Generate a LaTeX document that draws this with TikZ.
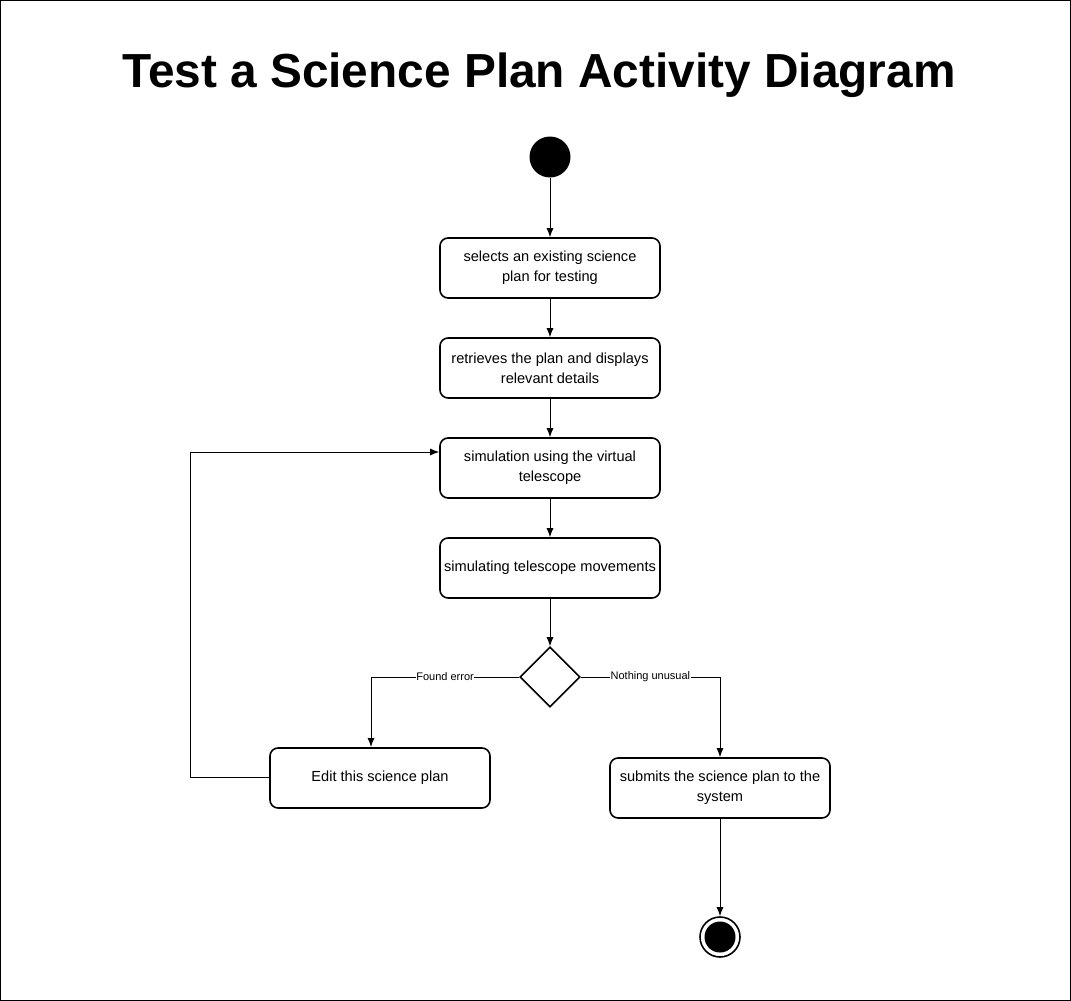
\documentclass[tikz,border=0pt]{standalone}
\usepackage{fontspec}
\setmainfont{Liberation Sans}
\usetikzlibrary{arrows.meta,shapes.geometric}
\begin{document}
\begin{tikzpicture}[x=1pt,y=-1pt,
  act/.style={draw,line width=1.6pt,rounded corners=8pt,minimum width=220pt,minimum height=60pt,align=center,font=\fontsize{14.6}{20}\selectfont,inner sep=0pt},
  flow/.style={line width=0.9pt,-{Latex[length=9pt,width=7pt]}},
  lbl/.style={fill=white,font=\fontsize{11}{12}\selectfont,inner sep=0.5pt}]
\draw[line width=1pt] (0.5,0.5) rectangle (1070.5,1000.5);
\useasboundingbox (0,0) rectangle (1071,1001);
\node[font=\fontsize{47.8}{54}\selectfont\bfseries] (title) at (539,75) {Test a Science Plan Activity Diagram};
\node[circle,fill=black,minimum size=41pt,inner sep=0pt] (start) at (550,157) {};
\node[act] (a1) at (550,268) {selects an existing science\\plan for testing};
\node[act] (a2) at (550,368) {retrieves the plan and displays\\relevant details};
\node[act] (a3) at (550,468) {simulation using the virtual\\telescope};
\node[act] (a4) at (550,568) {simulating telescope movements};
\node[diamond,draw,line width=1.6pt,minimum width=60pt,minimum height=60pt,inner sep=0pt] (dec) at (550,677) {};
\node[act] (edit) at (380,778) {Edit this science plan};
\node[act] (sub) at (720,788) {submits the science plan to the\\system};
\node[circle,draw,line width=1.6pt,minimum size=40pt,inner sep=0pt] (end) at (720,937) {};
\node[circle,fill=black,minimum size=31pt,inner sep=0pt] (endin) at (720,937) {};
\draw[flow] (start) -- (a1);
\draw[flow] (a1) -- (a2);
\draw[flow] (a2) -- (a3);
\draw[flow] (a3) -- (a4);
\draw[flow] (a4) -- (dec);
\coordinate (c1) at (371,677);
\coordinate (c2) at (720,677);
\draw[flow] (dec.west) -- node[lbl] {Found error} (c1) -- (371,747);
\draw[flow] (dec.east) -- node[lbl] {Nothing unusual} (c2) -- (sub.north);
\coordinate (l1) at (190,777);
\coordinate (l2) at (190,452);
\draw[flow] (edit.west |- l1) -- (l1) -- (l2) -- (a3.west |- l2);
\draw[flow] (sub) -- (end);
\end{tikzpicture}
\end{document}
